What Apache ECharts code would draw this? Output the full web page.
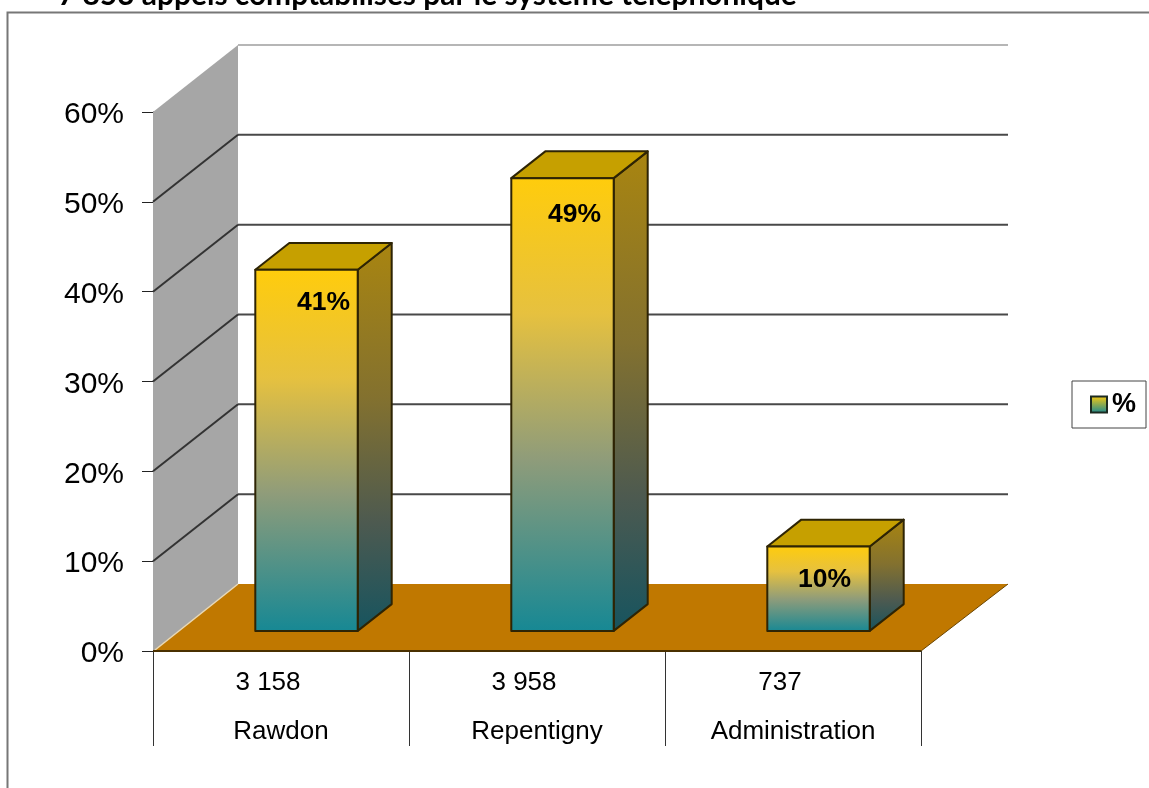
<!DOCTYPE html>
<html><head><meta charset="utf-8">
<style>html,body{margin:0;padding:0;background:#fff}#c{width:1149px;height:788px}</style>
<script src="https://cdn.jsdelivr.net/npm/echarts@6/dist/echarts.min.js"></script>
</head><body><div id="c"></div>
<script>
const titleText = '7 853 appels comptabilisés par le système téléphonique';
const categories = ['Rawdon', 'Repentigny', 'Administration'];
const callCounts = ['3 158', '3 958', '737'];
const shares = [40.2, 50.4, 9.4];
const shareLabels = ['41%', '49%', '10%'];
const gridTicks = [10, 20, 30, 40, 50, 60];
const seriesName = '%';

// layout of the pseudo 3D box
const DX = 85, DY = 67, BACK_EXTRA = 2;
const labelNudge = [[17, 33], [12, 37], [6, 33]];

const frontFill = new echarts.graphic.LinearGradient(0, 0, 0, 1, [
  {offset: 0, color: '#ffcc0c'}, {offset: 0.3, color: '#e6c13f'},
  {offset: 0.62, color: '#8f9c7a'}, {offset: 1, color: '#168894'}]);
const sideFill = new echarts.graphic.LinearGradient(0, 0, 0, 1, [
  {offset: 0, color: '#a98510'}, {offset: 0.4, color: '#83712f'},
  {offset: 0.72, color: '#4d5a50'}, {offset: 1, color: '#16545f'}]);
const edge = '#2e2404';

function renderBox(params, api) {
  const cs = params.coordSys;
  const x0 = cs.x, x1 = cs.x + cs.width, yB = cs.y + cs.height, yT = cs.y;
  const rx = x1 + DX + BACK_EXTRA, bx = x0 + DX;
  return {type: 'group', silent: true, children: [
    {type: 'polygon', shape: {points: [[x0, yT], [bx, yT - DY], [bx, yB - DY], [x0, yB]]},
      style: {fill: '#a6a6a6'}},
    {type: 'polygon', shape: {points: [[x0, yB], [bx, yB - DY], [rx, yB - DY], [x1, yB]]},
      style: {fill: '#c07800'}},
    {type: 'line', shape: {x1: x0 + 2, y1: yB - 1, x2: bx, y2: yB - DY},
      style: {stroke: '#e8d9b8', lineWidth: 1.5}},
    {type: 'line', shape: {x1: x0, y1: yB, x2: x1, y2: yB},
      style: {stroke: '#4a3000', lineWidth: 2}},
    {type: 'line', shape: {x1: x1, y1: yB, x2: rx, y2: yB - DY},
      style: {stroke: '#6b4500', lineWidth: 1}}
  ]};
}

function renderGrid(params, api) {
  const cs = params.coordSys;
  const v = api.value(1);
  const p = api.coord([0, v]);
  const x0 = cs.x, rx = cs.x + cs.width + DX + BACK_EXTRA, bx = x0 + DX, y = p[1];
  const top = v === gridTicks[gridTicks.length - 1];
  const kids = [{type: 'line', shape: {x1: bx, y1: y - DY, x2: rx, y2: y - DY},
    style: {stroke: top ? '#6e6e6e' : '#484848', lineWidth: top ? 1.2 : 2}}];
  if (!top) kids.push({type: 'line', shape: {x1: x0, y1: y, x2: bx, y2: y - DY},
    style: {stroke: '#333', lineWidth: 2}});
  return {type: 'group', silent: true, children: kids};
}

function renderBar(params, api) {
  const i = api.value(0), v = api.value(1);
  const c = api.coord([i, 0]), t = api.coord([i, v]);
  const band = api.size([1, 0])[0];
  const w = band * 0.4;
  const ox = DX * 0.3, oy = DY * 0.3, sx = DX * 0.4, sy = DY * 0.4;
  const l = c[0] - w / 2 + ox, r = l + w, b = c[1] - oy, top = t[1] - oy;
  const st = f => ({fill: f, stroke: edge, lineWidth: 2, lineJoin: 'round'});
  const nudge = labelNudge[i];
  return {type: 'group', children: [
    {type: 'polygon', shape: {points: [[r, top], [r + sx, top - sy], [r + sx, b - sy], [r, b]]}, style: st(sideFill)},
    {type: 'polygon', shape: {points: [[l, top], [l + sx, top - sy], [r + sx, top - sy], [r, top]]}, style: st('#c6a000')},
    {type: 'rect', shape: {x: l, y: top, width: w, height: b - top}, style: st(frontFill)},
    {type: 'text', x: (l + r) / 2 + nudge[0], y: top + nudge[1], style: {
      text: shareLabels[i], fill: '#000', font: 'bold 26.5px "Liberation Sans", Arial, sans-serif',
      align: 'center', verticalAlign: 'middle'}}
  ]};
}

const chart = echarts.init(document.getElementById('c'), null, {renderer: 'canvas'});
const sansFamily = '"Liberation Sans", Arial, sans-serif';
const catFont = {fontFamily: sansFamily, fontSize: 26, color: '#000', lineHeight: 49};
const tickFont = {fontFamily: sansFamily, fontSize: 30, color: '#000', lineHeight: 36, padding: [6, 0, 0, 0]};
chart.setOption({
  animation: false,
  backgroundColor: '#fff',
  title: {
    text: titleText, left: 58, top: -20, padding: 0,
    textStyle: {fontFamily: 'Lato, sans-serif', fontWeight: 'bold', fontSize: 29.9, color: '#000'}
  },
  graphic: [{type: 'rect', z: -10, silent: true,
    shape: {x: 7.5, y: 12.5, width: 1160, height: 800},
    style: {fill: 'transparent', stroke: '#777', lineWidth: 2}}],
  grid: {left: 153, top: 112, width: 768, height: 539, containLabel: false},
  legend: {
    data: [seriesName], left: 1072, top: 381, orient: 'vertical',
    backgroundColor: '#fff', borderColor: '#444', borderWidth: 1, borderRadius: 0,
    padding: [10, 10, 10, 18], itemWidth: 16, itemHeight: 16, itemGap: 0,
    icon: 'rect', selectedMode: false,
    textStyle: {fontFamily: sansFamily, fontWeight: 'bold', fontSize: 27, color: '#000'}
  },
  xAxis: {
    type: 'category', data: categories,
    axisLine: {show: false},
    axisTick: {show: true, length: 95, lineStyle: {color: '#333', width: 1}},
    axisLabel: {
      margin: 7, interval: 0,
      fontFamily: sansFamily, fontSize: 26, color: '#000', lineHeight: 49,
      rich: {n: Object.assign({padding: [0, 26, 0, 0]}, catFont), c: catFont},
      formatter: (name, idx) => '{n|' + callCounts[idx] + '}\n{c|' + name + '}'
    },
    splitLine: {show: false}
  },
  yAxis: {
    type: 'value', min: 0, max: 60, interval: 10,
    axisLine: {show: true, lineStyle: {color: '#333', width: 1}},
    axisTick: {show: true, length: 11, lineStyle: {color: '#222', width: 1}},
    axisLabel: {margin: 29,
      rich: {t: tickFont},
      formatter: v => '{t|' + v + '%}'},
    splitLine: {show: false}
  },
  series: [
    {type: 'custom', name: 'box', z: 1, renderItem: renderBox, coordinateSystem: 'cartesian2d',
      data: [[0, 0]], encode: {x: 0, y: 1}},
    {type: 'custom', name: 'grid', z: 2, renderItem: renderGrid, coordinateSystem: 'cartesian2d',
      data: gridTicks.map(t => [0, t]), encode: {x: 0, y: 1}},
    {type: 'custom', name: seriesName, z: 3, renderItem: renderBar, coordinateSystem: 'cartesian2d',
      itemStyle: {color: new echarts.graphic.LinearGradient(0, 0, 0, 1, [
        {offset: 0, color: '#ffcc0c'}, {offset: 1, color: '#168894'}]), borderColor: '#1c2a20', borderWidth: 2},
      data: shares.map((v, i) => [i, v]), encode: {x: 0, y: 1}}
  ]
});
</script></body></html>
